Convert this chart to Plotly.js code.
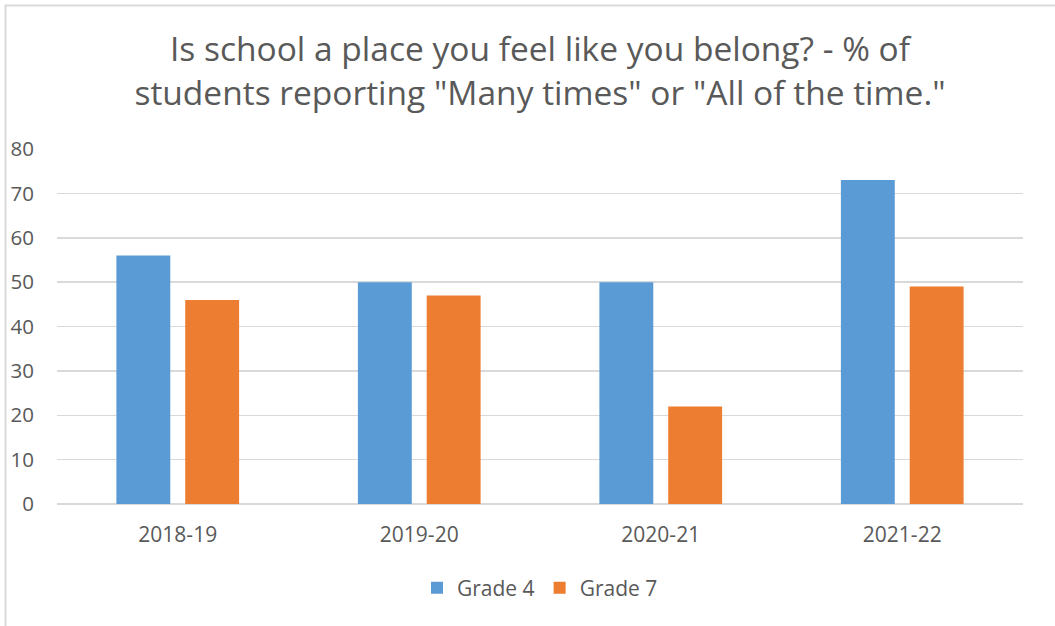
<!DOCTYPE html>
<html>
<head>
<meta charset="utf-8">
<script src="https://cdn.plot.ly/plotly-3.0.1.min.js"></script>
<style>html,body{margin:0;padding:0;background:#fff;}#chart{width:1055px;height:626px;}</style>
</head>
<body>
<div id="chart"></div>
<script>
const categories = ["2018-19", "2019-20", "2020-21", "2021-22"];
const grade4 = [56, 50, 50, 73];
const grade7 = [46, 47, 22, 49];
const seriesNames = ["Grade 4", "Grade 7"];
const yTicks = [0, 10, 20, 30, 40, 50, 60, 70, 80];

const FONT = "Open Sans, Noto Sans, sans-serif";
const GREY = "#595959";
const L = 57, R = 32, T = 149, B = 122, W = 1055, H = 626;
const pw = W - L - R, ph = H - T - B;
const px = v => (v - L) / pw;
const py = v => (H - B - v) / ph;

const data = [
  {type: "bar", name: seriesNames[0], x: categories, y: grade4, marker: {color: "#5B9BD5"}, hoverinfo: "x+y+name"},
  {type: "bar", name: seriesNames[1], x: categories, y: grade7, marker: {color: "#ED7D31"}, hoverinfo: "x+y+name"}
];

const layout = {
  width: W, height: H,
  margin: {l: L, r: R, t: T, b: B, pad: 0},
  paper_bgcolor: "#fff", plot_bgcolor: "#fff",
  font: {family: FONT, color: GREY, size: 20},
  title: {
    text: 'Is school a place you feel like you belong? - % of<br>students reporting "Many times" or "All of the time."',
    font: {family: FONT, size: 33.5, color: GREY},
    x: 0.5, xanchor: "center", xref: "paper",
    y: 0.902, yanchor: "middle", yref: "container"
  },
  barmode: "group",
  bargap: 0.43,
  bargroupgap: 0.217,
  xaxis: {
    type: "category",
    showgrid: false, zeroline: false, showline: false,
    ticks: "", ticklen: 0,
    tickfont: {family: FONT, size: 21, color: GREY},
    ticklabelstandoff: 16,
    fixedrange: true
  },
  yaxis: {
    range: [0, 80],
    tickvals: yTicks,
    showgrid: true, gridcolor: "#d9d9d9", gridwidth: 1.5,
    zeroline: true, zerolinecolor: "#d9d9d9", zerolinewidth: 1.5,
    showline: false, ticks: "",
    tickfont: {family: FONT, size: 20.5, color: GREY},
    ticklabelstandoff: 22,
    fixedrange: true
  },
  legend: {
    orientation: "h",
    x: 0.5, xanchor: "center",
    y: py(588), yanchor: "middle",
    font: {family: FONT, size: 21, color: GREY},
    itemwidth: 30,
    traceorder: "normal"
  },
  shapes: [
    {type: "rect", xref: "paper", yref: "paper",
     x0: px(5.5), x1: px(1070), y0: py(640), y1: py(5.5),
     line: {color: "#d9d9d9", width: 2}, fillcolor: "rgba(0,0,0,0)", layer: "below"}
  ],
  showlegend: true
};

Plotly.newPlot("chart", data, layout, {displayModeBar: false, staticPlot: true});
</script>
</body>
</html>
